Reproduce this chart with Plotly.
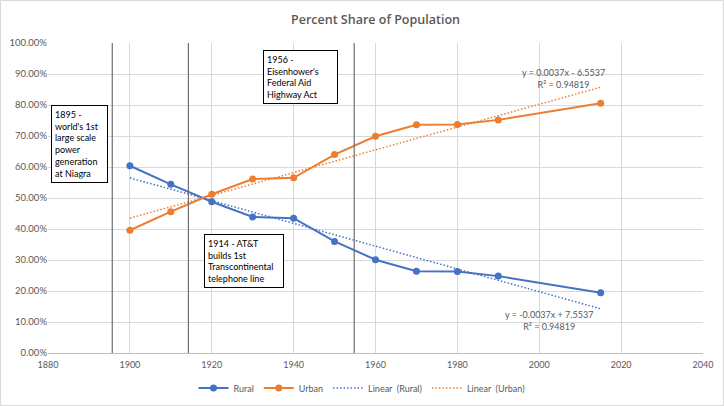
import numpy as np
import plotly.graph_objects as go

years = [1900, 1910, 1920, 1930, 1940, 1950, 1960, 1970, 1980, 1990, 2015]
rural = [0.604, 0.544, 0.488, 0.439, 0.435, 0.360, 0.301, 0.264, 0.263, 0.248, 0.194]
urban = [0.396, 0.456, 0.512, 0.561, 0.565, 0.640, 0.699, 0.736, 0.737, 0.752, 0.806]

event_years = [1895.7, 1914.3, 1954.8]
event_texts = [
    "1895 -<br>world's 1st<br>large scale<br>power<br>generation<br>at Niagra",
    "1914 - AT&T<br>builds 1st<br>Transcontinental<br>telephone line",
    "1956 -<br>Eisenhower's<br>Federal Aid<br>Highway Act",
]
event_box_x = [1887.6, 1927.8, 1941.6]
event_box_y = [0.673, 0.297, 0.889]
event_box_w = [49, 72, 67]

x_ticks = [1880, 1900, 1920, 1940, 1960, 1980, 2000, 2020, 2040]
y_ticks = [0, 0.1, 0.2, 0.3, 0.4, 0.5, 0.6, 0.7, 0.8, 0.9, 1.0]

BLUE = "#4472C4"
ORANGE = "#ED7D31"
GRAY = "#595959"
FONT = "Lato"

# linear trendlines (least squares, as in the spreadsheet)
yr = np.array(years, dtype=float)
rs, ri = np.polyfit(yr, rural, 1)
us, ui = np.polyfit(yr, urban, 1)
trend_x = [years[0], years[-1]]
rural_trend = [rs * x + ri for x in trend_x]
urban_trend = [us * x + ui for x in trend_x]

fig = go.Figure()
fig.add_trace(go.Scatter(x=years, y=rural, name="Rural", mode="lines+markers",
                         line=dict(color=BLUE, width=2), marker=dict(size=7, color=BLUE)))
fig.add_trace(go.Scatter(x=years, y=urban, name="Urban", mode="lines+markers",
                         line=dict(color=ORANGE, width=2), marker=dict(size=7, color=ORANGE)))
fig.add_trace(go.Scatter(x=trend_x, y=rural_trend, name="Linear  (Rural)", mode="lines",
                         line=dict(color=BLUE, width=1.5, dash="1.5px,2px")))
fig.add_trace(go.Scatter(x=trend_x, y=urban_trend, name="Linear  (Urban)", mode="lines",
                         line=dict(color=ORANGE, width=1.5, dash="1.5px,2px")))

shapes = []
for ex in event_years:
    shapes.append(dict(type="line", xref="x", yref="paper", x0=ex, x1=ex, y0=0, y1=1,
                       line=dict(color="#6F6F6F", width=1.2), layer="above"))
# outer chart border
shapes.append(dict(type="rect", xref="paper", yref="paper",
                   x0=-47.5 / 655, x1=1 + 20.5 / 655, y0=-52.5 / 310, y1=1 + 42.5 / 310,
                   line=dict(color="#D9D9D9", width=1), layer="below"))

annotations = []
for tx, bx, by, bw in zip(event_texts, event_box_x, event_box_y, event_box_w):
    annotations.append(dict(x=bx, y=by, xref="x", yref="y", text=tx, showarrow=False,
                            align="left", xanchor="center", yanchor="middle",
                            width=bw, bgcolor="white", bordercolor="#000000",
                            borderwidth=1, borderpad=3,
                            font=dict(family=FONT, size=9, color="#000000")))

annotations.append(dict(x=2006, y=0.885, xref="x", yref="y",
                        text="y = 0.0037x - 6.5537<br>R² = 0.94819", showarrow=False,
                        align="center", font=dict(family=FONT, size=9, color=GRAY)))
annotations.append(dict(x=2002.5, y=0.105, xref="x", yref="y",
                        text="y = -0.0037x + 7.5537<br>R² = 0.94819", showarrow=False,
                        align="center", font=dict(family=FONT, size=9, color=GRAY)))

fig.update_layout(
    width=724, height=406,
    margin=dict(l=48, r=21, t=43, b=53, autoexpand=False),
    paper_bgcolor="white", plot_bgcolor="white",
    title=dict(text="Percent Share of Population", x=0.5, xanchor="center",
               xref="paper", y=1 - 20 / 406, yanchor="middle",
               font=dict(family="Open Sans", size=12.5, color=GRAY, weight=600)),
    xaxis=dict(range=[1880, 2040], tickvals=x_ticks, showgrid=True, gridcolor="#D9D9D9",
               gridwidth=1, zeroline=False, showline=True, linecolor="#BFBFBF",
               tickfont=dict(family=FONT, size=9, color=GRAY), ticks="",
               ticklabelstandoff=3, automargin=False),
    yaxis=dict(range=[0, 1], tickvals=y_ticks, tickformat=".2%", showgrid=True,
               gridcolor="#D9D9D9", gridwidth=1, zeroline=False, showline=False,
               tickfont=dict(family=FONT, size=9.5, color=GRAY), ticks="",
               automargin=False),
    legend=dict(orientation="h", x=0.5, xanchor="center", xref="container",
                y=1 - 388 / 406, yanchor="middle", yref="container",
                font=dict(family=FONT, size=9, color=GRAY), itemwidth=30,
                traceorder="normal"),
    shapes=shapes,
    annotations=annotations,
)

fig.write_html("out.html", config={"displayModeBar": False},
               post_script="document.body.style.margin='0';document.body.style.overflow='hidden';")
